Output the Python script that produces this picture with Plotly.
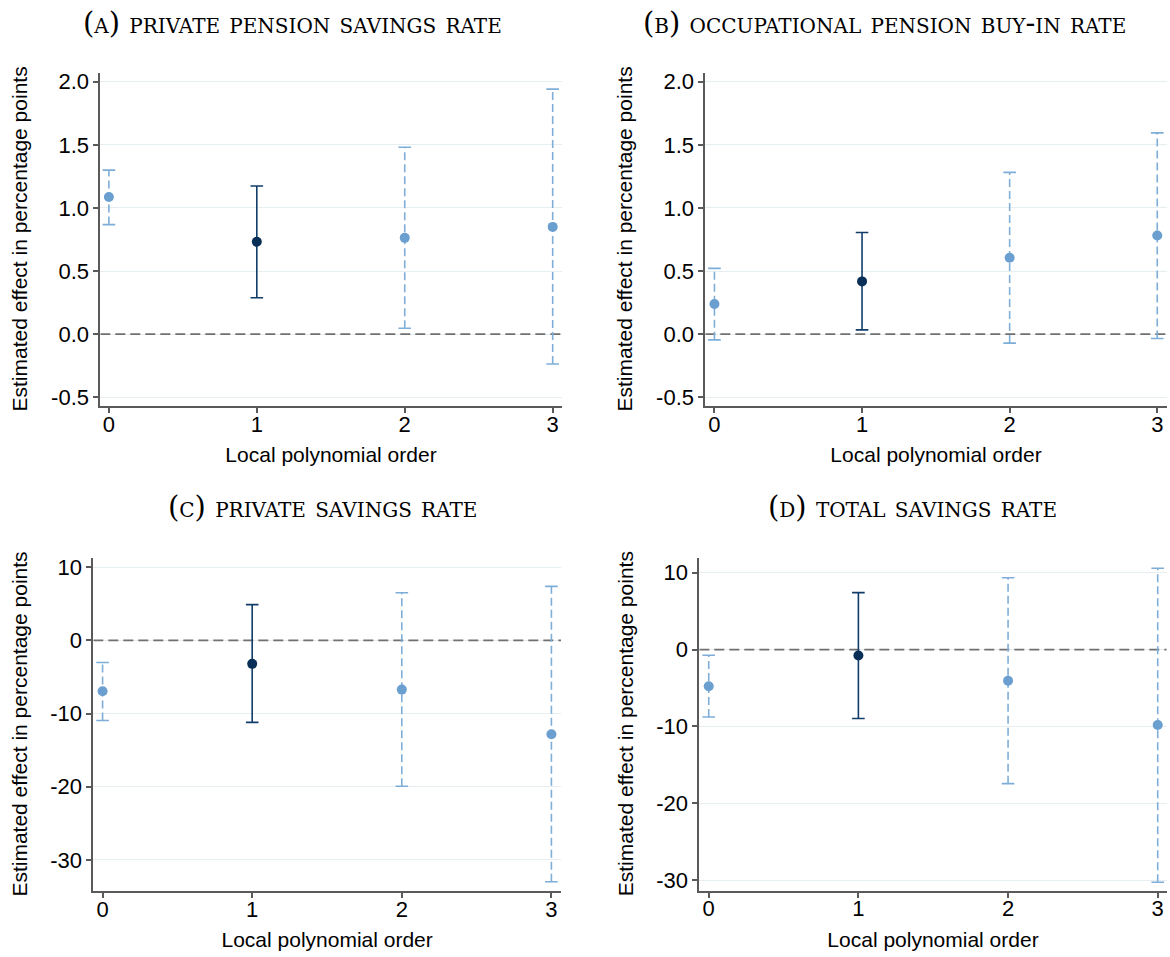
import plotly.graph_objects as go

# ---------------- data ----------------
orders = [0, 1, 2, 3]
highlight = [False, True, False, False]   # preferred specification (order 1)

titles = ["(a) private pension savings rate",
          "(b) occupational pension buy-in rate",
          "(c) private savings rate",
          "(d) total savings rate"]

est_a = [1.087, 0.732, 0.763, 0.850]
lo_a = [0.868, 0.289, 0.047, -0.237]
hi_a = [1.300, 1.174, 1.481, 1.942]

est_b = [0.239, 0.418, 0.605, 0.782]
lo_b = [-0.045, 0.034, -0.071, -0.034]
hi_b = [0.521, 0.805, 1.282, 1.595]

est_c = [-6.96, -3.21, -6.73, -12.84]
lo_c = [-10.94, -11.21, -19.93, -32.99]
hi_c = [-3.03, 4.88, 6.51, 7.37]

est_d = [-4.78, -0.78, -4.05, -9.82]
lo_d = [-8.78, -8.96, -17.44, -30.27]
hi_d = [-0.73, 7.41, 9.34, 10.59]

ticks_ab = [-0.5, 0.0, 0.5, 1.0, 1.5, 2.0]
ticklabels_ab = ["-0.5", "0.0", "0.5", "1.0", "1.5", "2.0"]
ticks_cd = [-30, -20, -10, 0, 10]
ticklabels_cd = ["-30", "-20", "-10", "0", "10"]
xticklabels = ["0", "1", "2", "3"]
reference_value = 0

xlabel = "Local polynomial order"
ylabel = "Estimated effect in percentage points"

# ---------------- styling ----------------
W, H = 1170, 957
LIGHT_PT = "#6b9fcf"
LIGHT_BAR = "#7eaed8"
DARK_PT = "#0a2f57"
DARK_BAR = "#123d69"
GRID = "#e6eef1"
AXIS = "#5a5a5a"
FONT = "Liberation Sans"
TITLE_FONT = "DejaVu Serif"

def px_dom(a, b, total):
    return [a / total, b / total]

def py_dom(top, bottom):
    return [1 - bottom / H, 1 - top / H]

panels = [
    dict(est=est_a, lo=lo_a, hi=hi_a, ticks=ticks_ab, labels=ticklabels_ab,
         xd=px_dom(100.3, 561.7, W), yd=py_dom(70, 406),
         xr=[-0.058, 3.061], yr=[-0.573, 2.073],
         tx=292, ty=20, ytx=20),
    dict(est=est_b, lo=lo_b, hi=hi_b, ticks=ticks_ab, labels=ticklabels_ab,
         xd=px_dom(705.3, 1166.7, W), yd=py_dom(70, 406),
         xr=[-0.062, 3.064], yr=[-0.573, 2.073],
         tx=884, ty=20, ytx=625),
    dict(est=est_c, lo=lo_c, hi=hi_c, ticks=ticks_cd, labels=ticklabels_cd,
         xd=px_dom(93.3, 561.0, W), yd=py_dom(558.3, 894),
         xr=[-0.062, 3.064], yr=[-34.3, 11.28],
         tx=322, ty=507, ytx=20),
    dict(est=est_d, lo=lo_d, hi=hi_d, ticks=ticks_cd, labels=ticklabels_cd,
         xd=px_dom(699.3, 1166.7, W), yd=py_dom(558.3, 893.3),
         xr=[-0.063, 3.06], yr=[-31.37, 11.94],
         tx=912, ty=507, ytx=625),
]

fig = go.Figure()
layout = dict(
    width=W, height=H,
    margin=dict(l=0, r=0, t=0, b=0),
    paper_bgcolor="white", plot_bgcolor="white",
    showlegend=False,
    font=dict(family=FONT, size=21, color="black"),
    annotations=[],
)

for k, p in enumerate(panels):
    n = "" if k == 0 else str(k + 1)
    xa, ya = "x" + n, "y" + n
    # dashed reference line at zero, spanning the axis range
    fig.add_trace(go.Scatter(
        x=p["xr"], y=[reference_value, reference_value], mode="lines",
        xaxis=xa, yaxis=ya, hoverinfo="skip",
        line=dict(color="#707070", width=1.6, dash="10px,5px")))
    for hl in (False, True):
        idx = [i for i in range(len(orders)) if highlight[i] == hl]
        xs, ys = [], []
        for i in idx:
            xs += [orders[i], orders[i], None]
            ys += [p["lo"][i], p["hi"][i], None]
        bar_col = DARK_BAR if hl else LIGHT_BAR
        pt_col = DARK_PT if hl else LIGHT_PT
        fig.add_trace(go.Scatter(
            x=xs, y=ys, mode="lines", xaxis=xa, yaxis=ya,
            line=dict(color=bar_col, width=1.6,
                      dash="solid" if hl else "8px,4px"),
            hoverinfo="skip"))
        fig.add_trace(go.Scatter(
            x=[orders[i] for i in idx] * 2,
            y=[p["lo"][i] for i in idx] + [p["hi"][i] for i in idx],
            mode="markers", xaxis=xa, yaxis=ya,
            marker=dict(symbol="line-ew", size=9,
                        line=dict(color=bar_col, width=1.6)),
            hoverinfo="skip"))
        fig.add_trace(go.Scatter(
            x=[orders[i] for i in idx], y=[p["est"][i] for i in idx],
            mode="markers", xaxis=xa, yaxis=ya,
            marker=dict(symbol="circle", size=10, color=pt_col,
                        line=dict(width=0))))

    layout["xaxis" + n] = dict(
        domain=p["xd"], range=p["xr"], anchor=ya,
        tickvals=orders, ticktext=xticklabels,
        ticks="outside", ticklen=5, tickwidth=1.5, tickcolor=AXIS,
        showline=True, linecolor=AXIS, linewidth=1.8,
        showgrid=False, zeroline=False,
        tickfont=dict(size=22, family=FONT),
        title=dict(text=xlabel, font=dict(size=21, family=FONT), standoff=12),
    )
    layout["yaxis" + n] = dict(
        domain=p["yd"], range=p["yr"], anchor=xa,
        tickvals=p["ticks"], ticktext=p["labels"],
        ticks="outside", ticklen=5, tickwidth=1.5, tickcolor=AXIS,
        showline=True, linecolor=AXIS, linewidth=1.8,
        showgrid=True, gridcolor=GRID, gridwidth=1.2,
        zeroline=False,
        tickfont=dict(size=22, family=FONT),
    )
    layout["annotations"].append(dict(
        text=titles[k], xref="paper", yref="paper",
        x=p["tx"] / W, y=1 - p["ty"] / H,
        xanchor="center", yanchor="middle", showarrow=False,
        font=dict(family=TITLE_FONT, size=29, color="black",
                  variant="small-caps")))
    # y-axis title
    layout["annotations"].append(dict(
        text=ylabel, xref="paper", yref="paper",
        x=p["ytx"] / W, y=(p["yd"][0] + p["yd"][1]) / 2,
        xanchor="center", yanchor="middle", textangle=-90,
        showarrow=False, font=dict(size=21, family=FONT, color="black")))

fig.update_layout(**layout)
try:
    fig.update_xaxes(ticklabelstandoff=-8)
except Exception:
    pass
fig.write_html("out.html",
               config={"displayModeBar": False},
               post_script="document.body.style.margin='0px';"
                           "document.body.style.overflow='hidden';")
